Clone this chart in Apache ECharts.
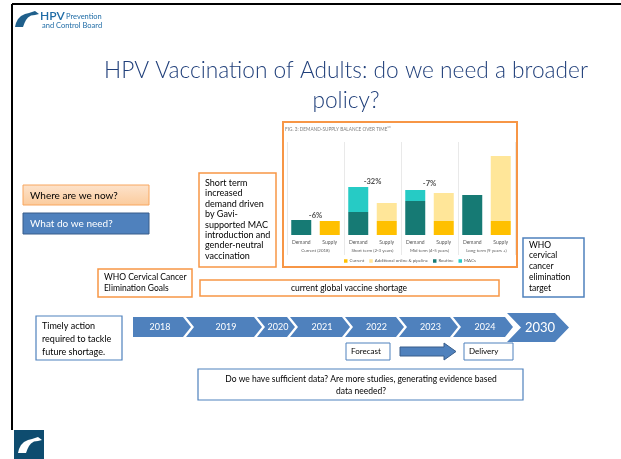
<!DOCTYPE html>
<html><head><meta charset="utf-8">
<script src="https://cdn.jsdelivr.net/npm/echarts@6/dist/echarts.min.js"></script>
<style>html,body{margin:0;padding:0;background:#fff}#c{width:621px;height:459px}</style>
</head><body><div id="c"></div>
<script>
// ---- data ----
const categories = ['Demand','Supply','Demand','Supply','Demand','Supply','Demand','Supply'];
const groups = ['Current (2018)','Short term (2-3 years)','Mid term (4-5 years)','Long term (9 years +)'];
const currentSupply    = [null,14,null,14,null,14,null,14];
const additionalSupply = [null,null,null,18,null,28,null,65];
const routineDemand    = [15,null,23,null,34,null,40,null];
const macsDemand       = [null,null,25,null,11,null,null,null];
const gapLabels  = ['-6%','-32%','-7%'];
const gapHeights = [19,53,51];
const years = ['2018','2019','2020','2021','2022','2023','2024','2030'];

// ---- layout ----
const F = 'Lato, "Liberation Sans", sans-serif';
const G = [];
function txt(s, x, y, size, color, align, weight) {
  G.push({type:'text', x:x, y:y, z:10, style:{text:s, fill:color||'#000',
    font:(weight||'normal')+' '+size+'px '+F, textAlign:align||'left', textVerticalAlign:'middle'}});
}
function lines(arr, x, y0, dy, size, color, align) {
  arr.forEach((s,i)=>txt(s, x, y0+i*dy, size, color, align));
}
function box(x,y,w,h,fill,stroke,lw) {
  G.push({type:'rect', z:5, shape:{x:x,y:y,width:w,height:h}, style:{fill:fill||'#fff', stroke:stroke||null, lineWidth:lw||0}});
}
function seg(x1,y1,x2,y2,color,lw) {
  G.push({type:'line', z:7, shape:{x1:x1,y1:y1,x2:x2,y2:y2}, style:{stroke:color, lineWidth:lw}});
}
function poly(pts, ox, oy, fill) {
  G.push({type:'polygon', z:6, shape:{points:pts.map(p=>[p[0]+ox,p[1]+oy])}, style:{fill:fill}});
}
const swoosh = [[0,16],[1,12],[3,8],[6,5],[10,3],[14,2],[20,0],[24,3],[20,4],[16,4.5],[13,6.5],[11,9],[9.5,12],[8,16]];
// frame lines
seg(12,4,621,4,'#000',2);
seg(12,4,12,430,'#000',2);
// top logo
poly(swoosh, 15, 11, '#1F5F8B');
txt('HPV', 40, 16, 12, '#1F6CA6', 'left', '600');
txt('Prevention', 66, 17, 7.5, '#1F6CA6');
txt('and Control Board', 42, 25.5, 7.5, '#1F6CA6');
// bottom logo
box(14, 430, 30, 29, '#0E4C6F');
poly(swoosh, 18, 437, '#fff');
// title
txt('HPV Vaccination of Adults: do we need a broader', 346, 71, 22.7, '#203F7A', 'center', '300');
txt('policy?', 346, 101, 22.7, '#203F7A', 'center', '300');
// left boxes
box(23, 185, 126, 20, new echarts.graphic.LinearGradient(0,0,0,1,[{offset:0,color:'#FDE3CC'},{offset:1,color:'#FBCB9C'}]), '#F8A65E', 1);
txt('Where are we now?', 30, 195.5, 10, '#000');
box(23, 213, 126, 21, '#4F81BD', '#385D8A', 1);
txt('What do we need?', 30, 223.5, 10, '#fff');
// short term box
box(199, 173, 77, 94, '#fff', '#F79646', 1.5);
lines(['Short term','increased','demand driven','by Gavi-','supported MAC','introduction and','gender-neutral','vaccination'], 205, 183, 10.4, 9, '#000');
// chart frame (four edges)
seg(283,122,517,122,'#F79646',2);
seg(283,267,517,267,'#F79646',2);
seg(283,121,283,268,'#F79646',2);
seg(517,121,517,268,'#F79646',2);
G.push({type:'text', x:285, y:129, z:10, style:{text:'FIG. 3: DEMAND-SUPPLY BALANCE OVER TIME\u00B9\u00B3', fill:'#7F7F7F', font:'4.7px '+F, textVerticalAlign:'middle'}});
// WHO goals
box(98, 269, 94, 28, '#fff', '#F79646', 1.5);
lines(['WHO Cervical Cancer','Elimination Goals'], 104, 277, 11.3, 8.5, '#000');
box(200, 280, 299, 16, '#fff', '#F79646', 1.5);
txt('current global vaccine shortage', 349, 288, 8.5, '#000', 'center');
box(523, 238, 61, 59, '#fff', '#4F81BD', 1.5);
lines(['WHO','cervical','cancer','elimination','target'], 529, 245, 10.7, 8.5, '#000');
// timely
box(36, 316, 86, 44, '#fff', '#4F81BD', 1.2);
lines(['Timely action','required to tackle','future shortage.'], 42, 326, 13, 9, '#000');
// chevrons
const tips = [191, 262, 295, 350, 404, 458, 513];
const d = 8, gap = 3, y0 = 317, y1 = 337, ym = 327;
for (let i = 0; i < 7; i++) {
  const L = i === 0 ? 133 : tips[i-1] - d + gap;
  const pts = i === 0 ? [[L,y0],[tips[i]-d,y0],[tips[i],ym],[tips[i]-d,y1],[L,y1]]
    : [[L,y0],[tips[i]-d,y0],[tips[i],ym],[tips[i]-d,y1],[L,y1],[L+d,ym]];
  poly(pts, 0, 0, '#4F81BD');
  const cx = i === 0 ? (L + tips[i]) / 2 - 2 : (L + d + tips[i]) / 2 - 2;
  txt(years[i], cx, ym, 9, '#fff', 'center');
}
{
  const L = 507, T = 569, dd = 14, a = 313, b = 342, m = 327.5;
  poly([[L,a],[T-dd,a],[T,m],[T-dd,b],[L,b],[L+dd,m]], 0, 0, '#4F81BD');
  txt(years[7], 540, m, 13, '#fff', 'center');
}
// forecast / delivery
box(346, 343, 44, 17, '#fff', '#4F81BD', 1);
txt('Forecast', 351, 351.5, 8, '#000');
G.push({type:'polygon', z:5, shape:{points:[[400,347],[444,347],[444,343],[456,351.5],[444,360],[444,356],[400,356]]}, style:{fill:'#4F81BD', stroke:'#385D8A', lineWidth:1}});
box(464, 343, 49, 17, '#fff', '#4F81BD', 1);
txt('Delivery', 469, 351.5, 8, '#000');
// bottom question box
box(198, 369, 325, 31, '#fff', '#4F81BD', 1.2);
lines(['Do we have sufficient data? Are more studies, generating evidence based','data needed?'], 361, 379, 12, 8.5, '#000', 'center');

const chart = echarts.init(document.getElementById('c'), null, {renderer:'canvas'});
chart.setOption({
  animation: false,
  graphic: {elements: G},
  legend: {data:['Current','Additional online & pipeline','Routine','MACs'], top: 259, left: 344,
    itemWidth: 3.5, itemHeight: 3.5, itemGap: 5, icon: 'rect', padding: 0,
    textStyle:{fontSize:4.4, color:'#595959', fontFamily:F, padding:[0,0,0,-3]}, z: 20},
  grid: {left: 287, top: 142, width: 228, height: 93, containLabel:false, z: 15},
  xAxis: [
    {type:'category', data: categories, axisLine:{show:false}, axisTick:{show:false},
      axisLabel:{fontSize:5, color:'#595959', margin:5, fontFamily:F, interval:0}, z: 15},
    {type:'category', data: groups, position:'bottom', axisLine:{show:false},
      axisTick:{show:true, length:20, interval:0, lineStyle:{color:'#E3E3E3', width:0.8}},
      splitLine:{show:true, interval:0, lineStyle:{color:'#E3E3E3', width:0.8}},
      axisLabel:{fontSize:4.4, color:'#595959', margin:14, fontFamily:F, interval:0}, z: 15}
  ],
  yAxis: {type:'value', min:0, max:93, show:false},
  series: [
    {name:'Current', type:'bar', stack:'a', barWidth:20, data: currentSupply, itemStyle:{color:'#FFC000'}, z: 16},
    {name:'Additional online & pipeline', type:'bar', stack:'a', barWidth:20, data: additionalSupply, itemStyle:{color:'#FFE699'}, z: 16},
    {name:'Routine', type:'bar', stack:'a', barWidth:20, data: routineDemand, itemStyle:{color:'#167A74'}, z: 16},
    {name:'MACs', type:'bar', stack:'a', barWidth:20, data: macsDemand, itemStyle:{color:'#26CBC5'}, z: 16},
    {name:'gap', type:'scatter', xAxisIndex:1, data: gapHeights.map((v,i)=>[i,v]), symbolSize:1, itemStyle:{color:'rgba(0,0,0,0)'},
      label:{show:true, position:'inside', formatter:p=>gapLabels[p.dataIndex], fontSize:7.5, fontWeight:700, color:'#1A1A1A', fontFamily:F}, z: 17}
  ]
});
</script></body></html>
